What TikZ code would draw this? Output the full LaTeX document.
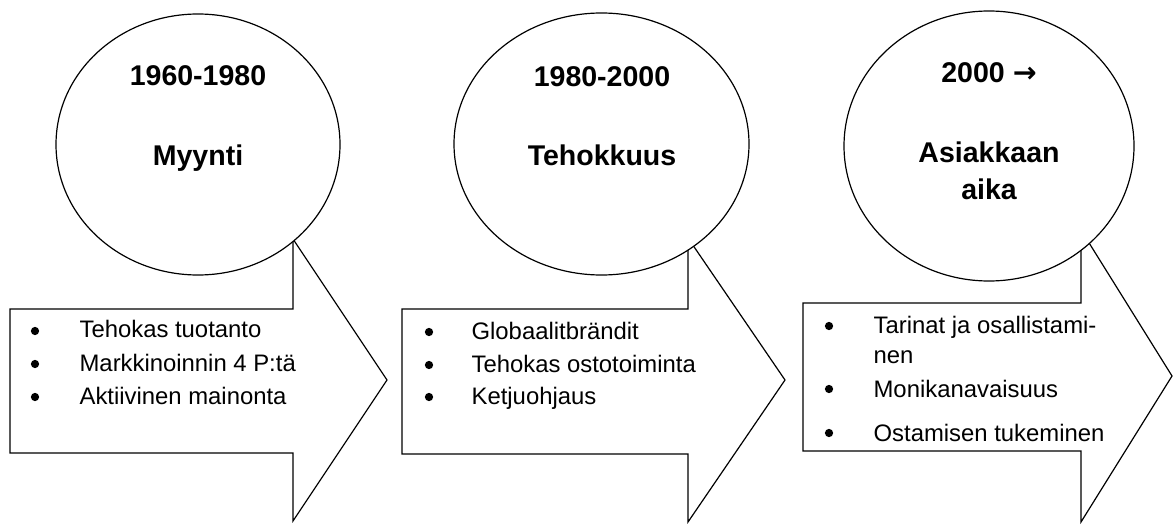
\documentclass[tikz,border=0pt]{standalone}
\usepackage{fontspec}
\setmainfont{Liberation Sans}
\newfontfamily\arrowfont{DejaVu Sans}
\usetikzlibrary{shapes.geometric}

\begin{document}
\begin{tikzpicture}[%
  x=0.75pt, y=-0.75pt,
  line width=0.9pt,
  era/.style={ellipse, draw, fill=white, inner sep=0pt},
  title/.style={anchor=base, inner sep=0pt, font=\bfseries\fontsize{21.4}{25}\selectfont},
  item/.style={anchor=base west, inner sep=0pt, font=\fontsize{17.9}{21}\selectfont},
  dot/.style={circle, fill, inner sep=0pt, minimum size=6.2pt},
]

  \useasboundingbox (0,0) rectangle (1176,524);

  % block arrows
  \draw (10,309) -- (293,309) -- (293,239) -- (387,380) -- (293,521)
    -- (293,453) -- (10,453) -- cycle;
  \draw (402,309) -- (688,309) -- (688,238) -- (785,380) -- (688,522)
    -- (688,454) -- (402,454) -- cycle;
  \draw (803,303) -- (1081,303) -- (1081,230) -- (1172,376) -- (1081,522)
    -- (1081,451) -- (803,451) -- cycle;

  % circles
  \node[era, minimum width=213pt, minimum height=195.75pt] (c1) at (198,144.5) {};
  \node[era, minimum width=221.25pt, minimum height=196.5pt] (c2) at (601.5,144) {};
  \node[era, minimum width=217.5pt, minimum height=202.5pt] (c3) at (989,146) {};

  \node[title] (y1) at (198,86) {1960-1980};
  \node[title] (n1) at (198,166) {Myynti};
  \node[title] (y2) at (602,87) {1980-2000};
  \node[title] (n2) at (602,165) {Tehokkuus};
  \node[title] (y3) at (989,83) {2000 {\arrowfont→}};
  \node[title] (n3) at (989,162) {Asiakkaan};
  \node[title] (m3) at (989,199) {aika};

  % lists
  \node[dot] (d1a) at (35,331) {};
  \node[dot] (d1b) at (35,364) {};
  \node[dot] (d1c) at (35,397) {};
  \node[item] (i1a) at (79,337) {Tehokas tuotanto};
  \node[item] (i1b) at (79,371) {Markkinoinnin 4 P:tä};
  \node[item] (i1c) at (79,404) {Aktiivinen mainonta};

  \node[dot] (d2a) at (429,332) {};
  \node[dot] (d2b) at (429,365) {};
  \node[dot] (d2c) at (429,397) {};
  \node[item] (i2a) at (471,339) {Globaalitbrändit};
  \node[item] (i2b) at (471,372) {Tehokas ostotoiminta};
  \node[item] (i2c) at (471,404) {Ketjuohjaus};

  \node[dot] (d3a) at (829,326) {};
  \node[dot] (d3b) at (829,389) {};
  \node[dot] (d3c) at (829,433) {};
  \node[item] (i3a) at (873,333) {Tarinat ja osallistami-};
  \node[item] (i3x) at (873,363) {nen};
  \node[item] (i3b) at (873,397) {Monikanavaisuus};
  \node[item] (i3c) at (873,441) {Ostamisen tukeminen};

\end{tikzpicture}
\end{document}
